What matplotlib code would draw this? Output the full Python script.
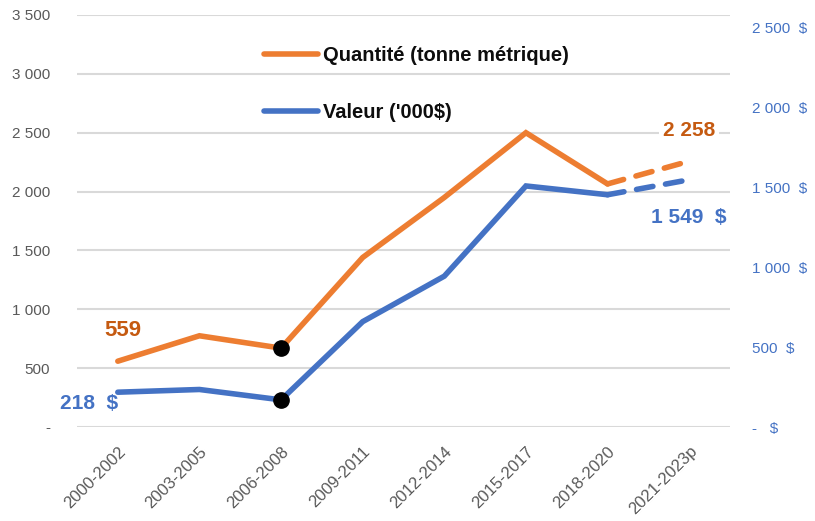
import matplotlib
matplotlib.use("Agg")
import matplotlib.pyplot as plt
from matplotlib.ticker import FuncFormatter

periodes = ["2000-2002", "2003-2005", "2006-2008", "2009-2011",
            "2012-2014", "2015-2017", "2018-2020", "2021-2023p"]
quantite = [559, 775, 670, 1440, 1950, 2500, 2065, 2258]
valeur = [218, 235, 170, 660, 945, 1510, 1455, 1549]

ORANGE = "#ED7D31"
ORANGE_TXT = "#C55A11"
BLEU = "#4472C4"
GRIS = "#595959"

plt.rcParams["font.family"] = ["Liberation Sans", "DejaVu Sans"]

fig = plt.figure(figsize=(8.15, 5.21), dpi=100)
ax = fig.add_axes([77 / 815, 1 - 427 / 521, 653 / 815, 412 / 521])
ax2 = ax.twinx()

x = list(range(len(periodes)))
lw = 4.0
dash = (0, (3, 2.3))

# solid part, then dashed projection
ax.plot(x[:7], quantite[:7], color=ORANGE, lw=lw, solid_capstyle="round",
        solid_joinstyle="miter", label="Quantité (tonne métrique)", zorder=3)
ax.plot(x[6:], quantite[6:], color=ORANGE, lw=lw, ls=dash,
        dash_capstyle="round", zorder=3)
ax2.plot(x[:7], valeur[:7], color=BLEU, lw=lw, solid_capstyle="round",
         solid_joinstyle="miter", label="Valeur ('000$)", zorder=3)
ax2.plot(x[6:], valeur[6:], color=BLEU, lw=lw, ls=dash,
         dash_capstyle="round", zorder=3)

# black dots at 2006-2008
ax.plot(x[2], quantite[2], "o", color="black", ms=11, zorder=5)
ax2.plot(x[2], valeur[2], "o", color="black", ms=11, zorder=5)

ax.set_xlim(-0.5, 7.5)
ax.set_ylim(0, 3500)
ax2.set_ylim(0, 2581)
ax.set_yticks(range(0, 3501, 500))
ax2.set_yticks(range(0, 2501, 500))


def fmt_left(v, pos):
    if v == 0:
        return "-"
    return f"{int(v):,}".replace(",", " ")


def fmt_right(v, pos):
    if v == 0:
        return "-   $"
    return f"{int(v):,}".replace(",", " ") + "  $"


ax.yaxis.set_major_formatter(FuncFormatter(fmt_left))
ax2.yaxis.set_major_formatter(FuncFormatter(fmt_right))

ax.grid(axis="y", color="#D9D9D9", lw=1.5, zorder=0)
ax.set_axisbelow(True)
for a in (ax, ax2):
    for s in a.spines.values():
        s.set_visible(False)
    a.tick_params(length=0)

ax.set_xticks(x)
ax.set_xticklabels(periodes, rotation=45, ha="right", rotation_mode="anchor",
                   color=GRIS, fontsize=12)
ax.tick_params(axis="x", pad=12)
ax.tick_params(axis="y", colors=GRIS, labelsize=11, pad=19.5)
ax2.tick_params(axis="y", colors=BLEU, labelsize=11, pad=16)
for t in ax2.get_yticklabels():
    t.set_ha("left")

# data labels
ax.annotate("559", (x[0], quantite[0]), xytext=(4, 22), textcoords="offset points",
            ha="center", va="center", color=ORANGE_TXT, fontsize=16, fontweight="bold")
ax2.annotate("218  $", (x[0], valeur[0]), xytext=(-21, -8), textcoords="offset points",
             ha="center", va="center", color=BLEU, fontsize=15, fontweight="bold")
ax.annotate("2 258", (x[7], quantite[7]), xytext=(0, 22), textcoords="offset points",
            ha="center", va="center", color=ORANGE_TXT, fontsize=15, fontweight="bold",
            bbox=dict(boxstyle="square,pad=0.2", fc="white", ec="none"))
ax2.annotate("1 549  $", (x[7], valeur[7]), xytext=(0, -27), textcoords="offset points",
             ha="center", va="center", color=BLEU, fontsize=15, fontweight="bold",
             bbox=dict(boxstyle="square,pad=0.2", fc="white", ec="none"))

h1, l1 = ax.get_legend_handles_labels()
h2, l2 = ax2.get_legend_handles_labels()
leg = fig.legend(h1 + h2, l1 + l2, loc="upper left", bbox_to_anchor=(246 / 815, 1 - 28 / 521),
                 frameon=False, handlelength=2.7, handletextpad=0.2, labelspacing=1.9,
                 prop={"size": 14.5, "weight": "bold"})
for t in leg.get_texts():
    t.set_color("#0D0D0D")

fig.savefig("out.png", dpi=100)
